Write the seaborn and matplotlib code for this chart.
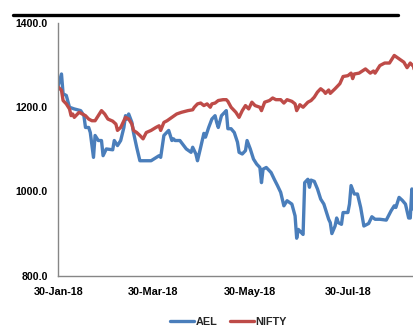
import matplotlib
matplotlib.use("Agg")
import matplotlib.pyplot as plt
import matplotlib.dates as mdates
from matplotlib.lines import Line2D
import pandas as pd
import seaborn as sns

ael_dates = ["2018-01-30","2018-02-01","2018-02-02","2018-02-04","2018-02-06","2018-02-09","2018-02-13","2018-02-15","2018-02-16","2018-02-18",
             "2018-02-19","2018-02-21","2018-02-22","2018-02-24","2018-02-26","2018-02-27","2018-03-01","2018-03-05","2018-03-06","2018-03-08",
             "2018-03-10","2018-03-12","2018-03-13","2018-03-14","2018-03-15","2018-03-17","2018-03-18","2018-03-20","2018-03-22","2018-03-29",
             "2018-04-03","2018-04-04","2018-04-06","2018-04-09","2018-04-11","2018-04-12","2018-04-13","2018-04-16","2018-04-20","2018-04-23",
             "2018-04-24","2018-04-26","2018-04-27","2018-04-29","2018-05-01","2018-05-02","2018-05-04","2018-05-06","2018-05-08","2018-05-09",
             "2018-05-10","2018-05-12","2018-05-14","2018-05-15","2018-05-16","2018-05-18","2018-05-20","2018-05-22","2018-05-23","2018-05-25",
             "2018-05-27","2018-05-28","2018-05-30","2018-06-01","2018-06-03","2018-06-05","2018-06-06","2018-06-07","2018-06-09","2018-06-12",
             "2018-06-14","2018-06-16","2018-06-18","2018-06-20","2018-06-22","2018-06-25","2018-06-27","2018-06-28","2018-06-29","2018-07-01",
             "2018-07-02","2018-07-03","2018-07-05","2018-07-06","2018-07-07","2018-07-09","2018-07-11","2018-07-13","2018-07-15","2018-07-18",
             "2018-07-19","2018-07-20","2018-07-22","2018-07-23","2018-07-24","2018-07-26","2018-07-27","2018-07-30","2018-07-31","2018-08-01",
             "2018-08-03","2018-08-05","2018-08-07","2018-08-09","2018-08-12","2018-08-14","2018-08-16","2018-08-19","2018-08-23","2018-08-26",
             "2018-08-28","2018-08-29","2018-08-31","2018-09-02","2018-09-04","2018-09-06","2018-09-07","2018-09-08","2018-09-09","2018-09-11"]
ael_values = [1252,1279,1232,1228,1200,1196,1192,1180,1152,1152,
              1140,1081,1133,1121,1121,1085,1101,1099,1121,1109,
              1121,1152,1180,1172,1184,1164,1140,1105,1073,1073,
              1085,1081,1133,1145,1121,1125,1121,1121,1101,1093,
              1105,1089,1073,1105,1138,1129,1152,1172,1180,1164,
              1152,1180,1188,1192,1149,1149,1140,1117,1093,1089,
              1097,1121,1101,1077,1065,1057,1021,1053,1057,1045,
              1029,1014,998,966,978,970,942,889,910,902,
              898,1021,1029,1010,1027,1024,1006,982,970,934,
              926,900,918,937,926,922,950,950,970,1014,
              994,994,962,918,924,940,934,934,932,954,
              966,962,986,979,970,937,937,1006,958,955]

nifty_dates = ["2018-01-30","2018-02-01","2018-02-02","2018-02-04","2018-02-06","2018-02-07","2018-02-08","2018-02-09","2018-02-12","2018-02-14",
               "2018-02-16","2018-02-18","2018-02-20","2018-02-22","2018-02-24","2018-02-26","2018-02-28","2018-03-02","2018-03-05","2018-03-07",
               "2018-03-08","2018-03-10","2018-03-12","2018-03-13","2018-03-15","2018-03-17","2018-03-18","2018-03-20","2018-03-22","2018-03-24",
               "2018-03-26","2018-03-29","2018-04-01","2018-04-03","2018-04-04","2018-04-06","2018-04-08","2018-04-11","2018-04-14","2018-04-17",
               "2018-04-21","2018-04-24","2018-04-25","2018-04-27","2018-04-29","2018-05-01","2018-05-03","2018-05-05","2018-05-06","2018-05-08",
               "2018-05-10","2018-05-13","2018-05-15","2018-05-16","2018-05-18","2018-05-21","2018-05-23","2018-05-25","2018-05-27","2018-05-29",
               "2018-05-31","2018-06-02","2018-06-05","2018-06-06","2018-06-08","2018-06-11","2018-06-13","2018-06-15","2018-06-18","2018-06-20",
               "2018-06-22","2018-06-25","2018-06-27","2018-06-28","2018-06-30","2018-07-02","2018-07-05","2018-07-07","2018-07-09","2018-07-11",
               "2018-07-13","2018-07-15","2018-07-16","2018-07-18","2018-07-19","2018-07-22","2018-07-25","2018-07-27","2018-07-30","2018-08-01",
               "2018-08-02","2018-08-03","2018-08-06","2018-08-10","2018-08-13","2018-08-15","2018-08-16","2018-08-19","2018-08-22","2018-08-25",
               "2018-08-28","2018-08-31","2018-09-03","2018-09-05","2018-09-07","2018-09-09","2018-09-10","2018-09-12"]
nifty_values = [1248,1240,1216,1208,1196,1180,1184,1176,1188,1184,
                1180,1172,1168,1168,1180,1192,1184,1172,1167,1160,
                1145,1152,1168,1176,1172,1160,1145,1140,1133,1125,
                1140,1145,1152,1156,1145,1164,1168,1176,1184,1188,
                1192,1194,1200,1208,1210,1204,1208,1200,1208,1210,
                1216,1218,1218,1214,1200,1188,1176,1192,1204,1196,
                1212,1204,1200,1192,1212,1216,1222,1218,1218,1210,
                1218,1214,1208,1192,1206,1200,1212,1216,1224,1236,
                1244,1238,1233,1241,1233,1244,1256,1273,1275,1281,
                1268,1279,1281,1291,1281,1286,1281,1299,1305,1305,
                1323,1315,1307,1294,1305,1297,1279,1275]

series_names = ["AEL", "NIFTY"]
series_colors = ["#4a7ebb", "#be4b48"]
x_tick_dates = ["2018-01-30", "2018-03-30", "2018-05-30", "2018-07-30", "2018-09-30"]
y_ticks = [800, 1000, 1200, 1400]

df = pd.concat([
    pd.DataFrame({"date": pd.to_datetime(ael_dates), "value": ael_values, "series": "AEL"}),
    pd.DataFrame({"date": pd.to_datetime(nifty_dates), "value": nifty_values, "series": "NIFTY"}),
], ignore_index=True)

sns.set_style("white")
plt.rcParams["font.family"] = ["Liberation Sans", "DejaVu Sans"]
plt.rcParams["font.weight"] = "bold"

fig = plt.figure(figsize=(4.14, 3.29), dpi=100)
ax = fig.add_axes([0.1408, 0.162, 0.8592, 0.768])

sns.lineplot(data=df, x="date", y="value", hue="series", hue_order=series_names,
             palette=series_colors, linewidth=2.4, ax=ax, legend=True)

ax.set_ylim(800, 1400)
ax.set_yticks(y_ticks)
ax.set_yticklabels([f"{v:.1f}" for v in y_ticks])
ax.set_xlim(pd.Timestamp("2018-01-30"), pd.Timestamp("2018-09-09 08:00"))
ax.xaxis.set_major_locator(matplotlib.ticker.FixedLocator(mdates.date2num(pd.to_datetime(x_tick_dates))))
ax.xaxis.set_major_formatter(mdates.DateFormatter("%d-%b-%y"))
ax.set_xlabel("")
ax.set_ylabel("")

for s in ["top", "right"]:
    ax.spines[s].set_visible(False)
for s in ["left", "bottom"]:
    ax.spines[s].set_color("#868686")
    ax.spines[s].set_linewidth(1.0)

ax.tick_params(axis="y", direction="out", length=3, width=0.8, color="#868686",
               pad=4.5, labelsize=7.6, labelcolor="black")
ax.tick_params(axis="x", direction="out", length=3, width=0.8, color="#868686",
               pad=5, labelsize=7.8, labelcolor="black")
for lbl in ax.get_xticklabels() + ax.get_yticklabels():
    lbl.set_fontweight("bold")

handles, labels = ax.get_legend_handles_labels()
ax.get_legend().remove()
fig.legend(handles, labels, loc="center", bbox_to_anchor=(0.552, 0.022), ncol=2,
           frameon=False, prop={"weight": "bold", "size": 7.8},
           handlelength=2.2, handletextpad=0.2, columnspacing=1.1)

fig.add_artist(Line2D([13 / 414, 398 / 414], [1 - 14.5 / 329, 1 - 14.5 / 329],
                      color="black", linewidth=2.4, transform=fig.transFigure))

fig.savefig("out.png", dpi=100)
